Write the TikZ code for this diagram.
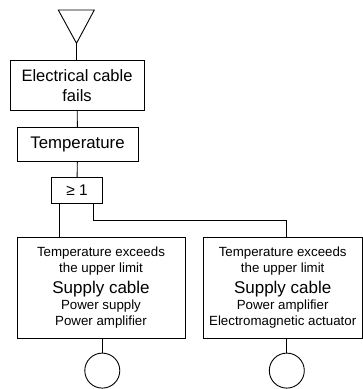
\documentclass[tikz,border=0pt]{standalone}
\usepackage{fontspec}
\setmainfont{Liberation Sans}
\usetikzlibrary{calc}

\newcommand{\smallfs}{\fontsize{13.3}{15.8}\selectfont}
\newcommand{\bigfs}{\fontsize{17}{21}\selectfont}
\tikzset{
  evbox/.style={draw, line width=0.9pt, inner sep=0pt, align=center},
  lowbox/.style={evbox, minimum height=101, font=\smallfs},
  gatebox/.style={draw, line width=0.9pt, inner sep=0pt, minimum width=50.6, minimum height=25.8},
  basicev/.style={draw, circle, line width=0.9pt, inner sep=0pt, minimum size=35},
  conn/.style={line width=0.9pt}
}

\begin{document}
\begin{tikzpicture}[x=1pt, y=-1pt]

\useasboundingbox (0,0) rectangle (363,389);

% Transfer triangle
\coordinate (apex) at (76.5,43.3);
\draw[conn, line join=miter] (58.3,10) -- (94.3,10) -- (apex) -- cycle;

% Top event and intermediate
\node[evbox, minimum width=134, minimum height=50.7, font=\fontsize{16.5}{20}\selectfont] (fail) at (77,85.4) {Electrical cable\\fails};
\node[evbox, minimum width=121, minimum height=34, font=\fontsize{16.8}{20}\selectfont] (temp) at (77.5,144.7) {Temperature};

% OR gate
\node[gatebox, font=\fontsize{15.5}{18}\selectfont] (gate) at (77,190.5) {≥ 1};

% ========== Lower events ==========
\node[lowbox, minimum width=168] (boxL) at (101,287.6) {%
  Temperature exceeds\\
  the upper limit\\[5pt]
  {\bigfs Supply cable}\\[0.5pt]
  Power supply\\
  Power amplifier};
\node[lowbox, minimum width=159.5] (boxR) at (282.7,287.6) {%
  Temperature exceeds\\
  the upper limit\\[5pt]
  {\bigfs Supply cable}\\[0.5pt]
  Power amplifier\\
  Electromagnetic actuator};

% Basic events
\node[basicev] (evL) at (102.3,370.6) {};
\node[basicev] (evR) at (286.8,370.6) {};

% Connectors
\draw[conn] (apex) -- (apex |- fail.north);
\draw[conn] (fail) -- (temp);
\draw[conn] (temp) -- (gate);
\coordinate (gL) at ($(gate.south west)+(8.6,0)$);
\coordinate (gR) at ($(gate.south east)+(-9,0)$);
\coordinate (busR) at (286.8,220.5);
\draw[conn] (gL) -- (gL |- boxL.north);
\draw[conn] (gR) |- (busR) -- (busR |- boxR.north);
\draw[conn] (evL) -- (evL |- boxL.south);
\draw[conn] (evR) -- (evR |- boxR.south);

\end{tikzpicture}
\end{document}
